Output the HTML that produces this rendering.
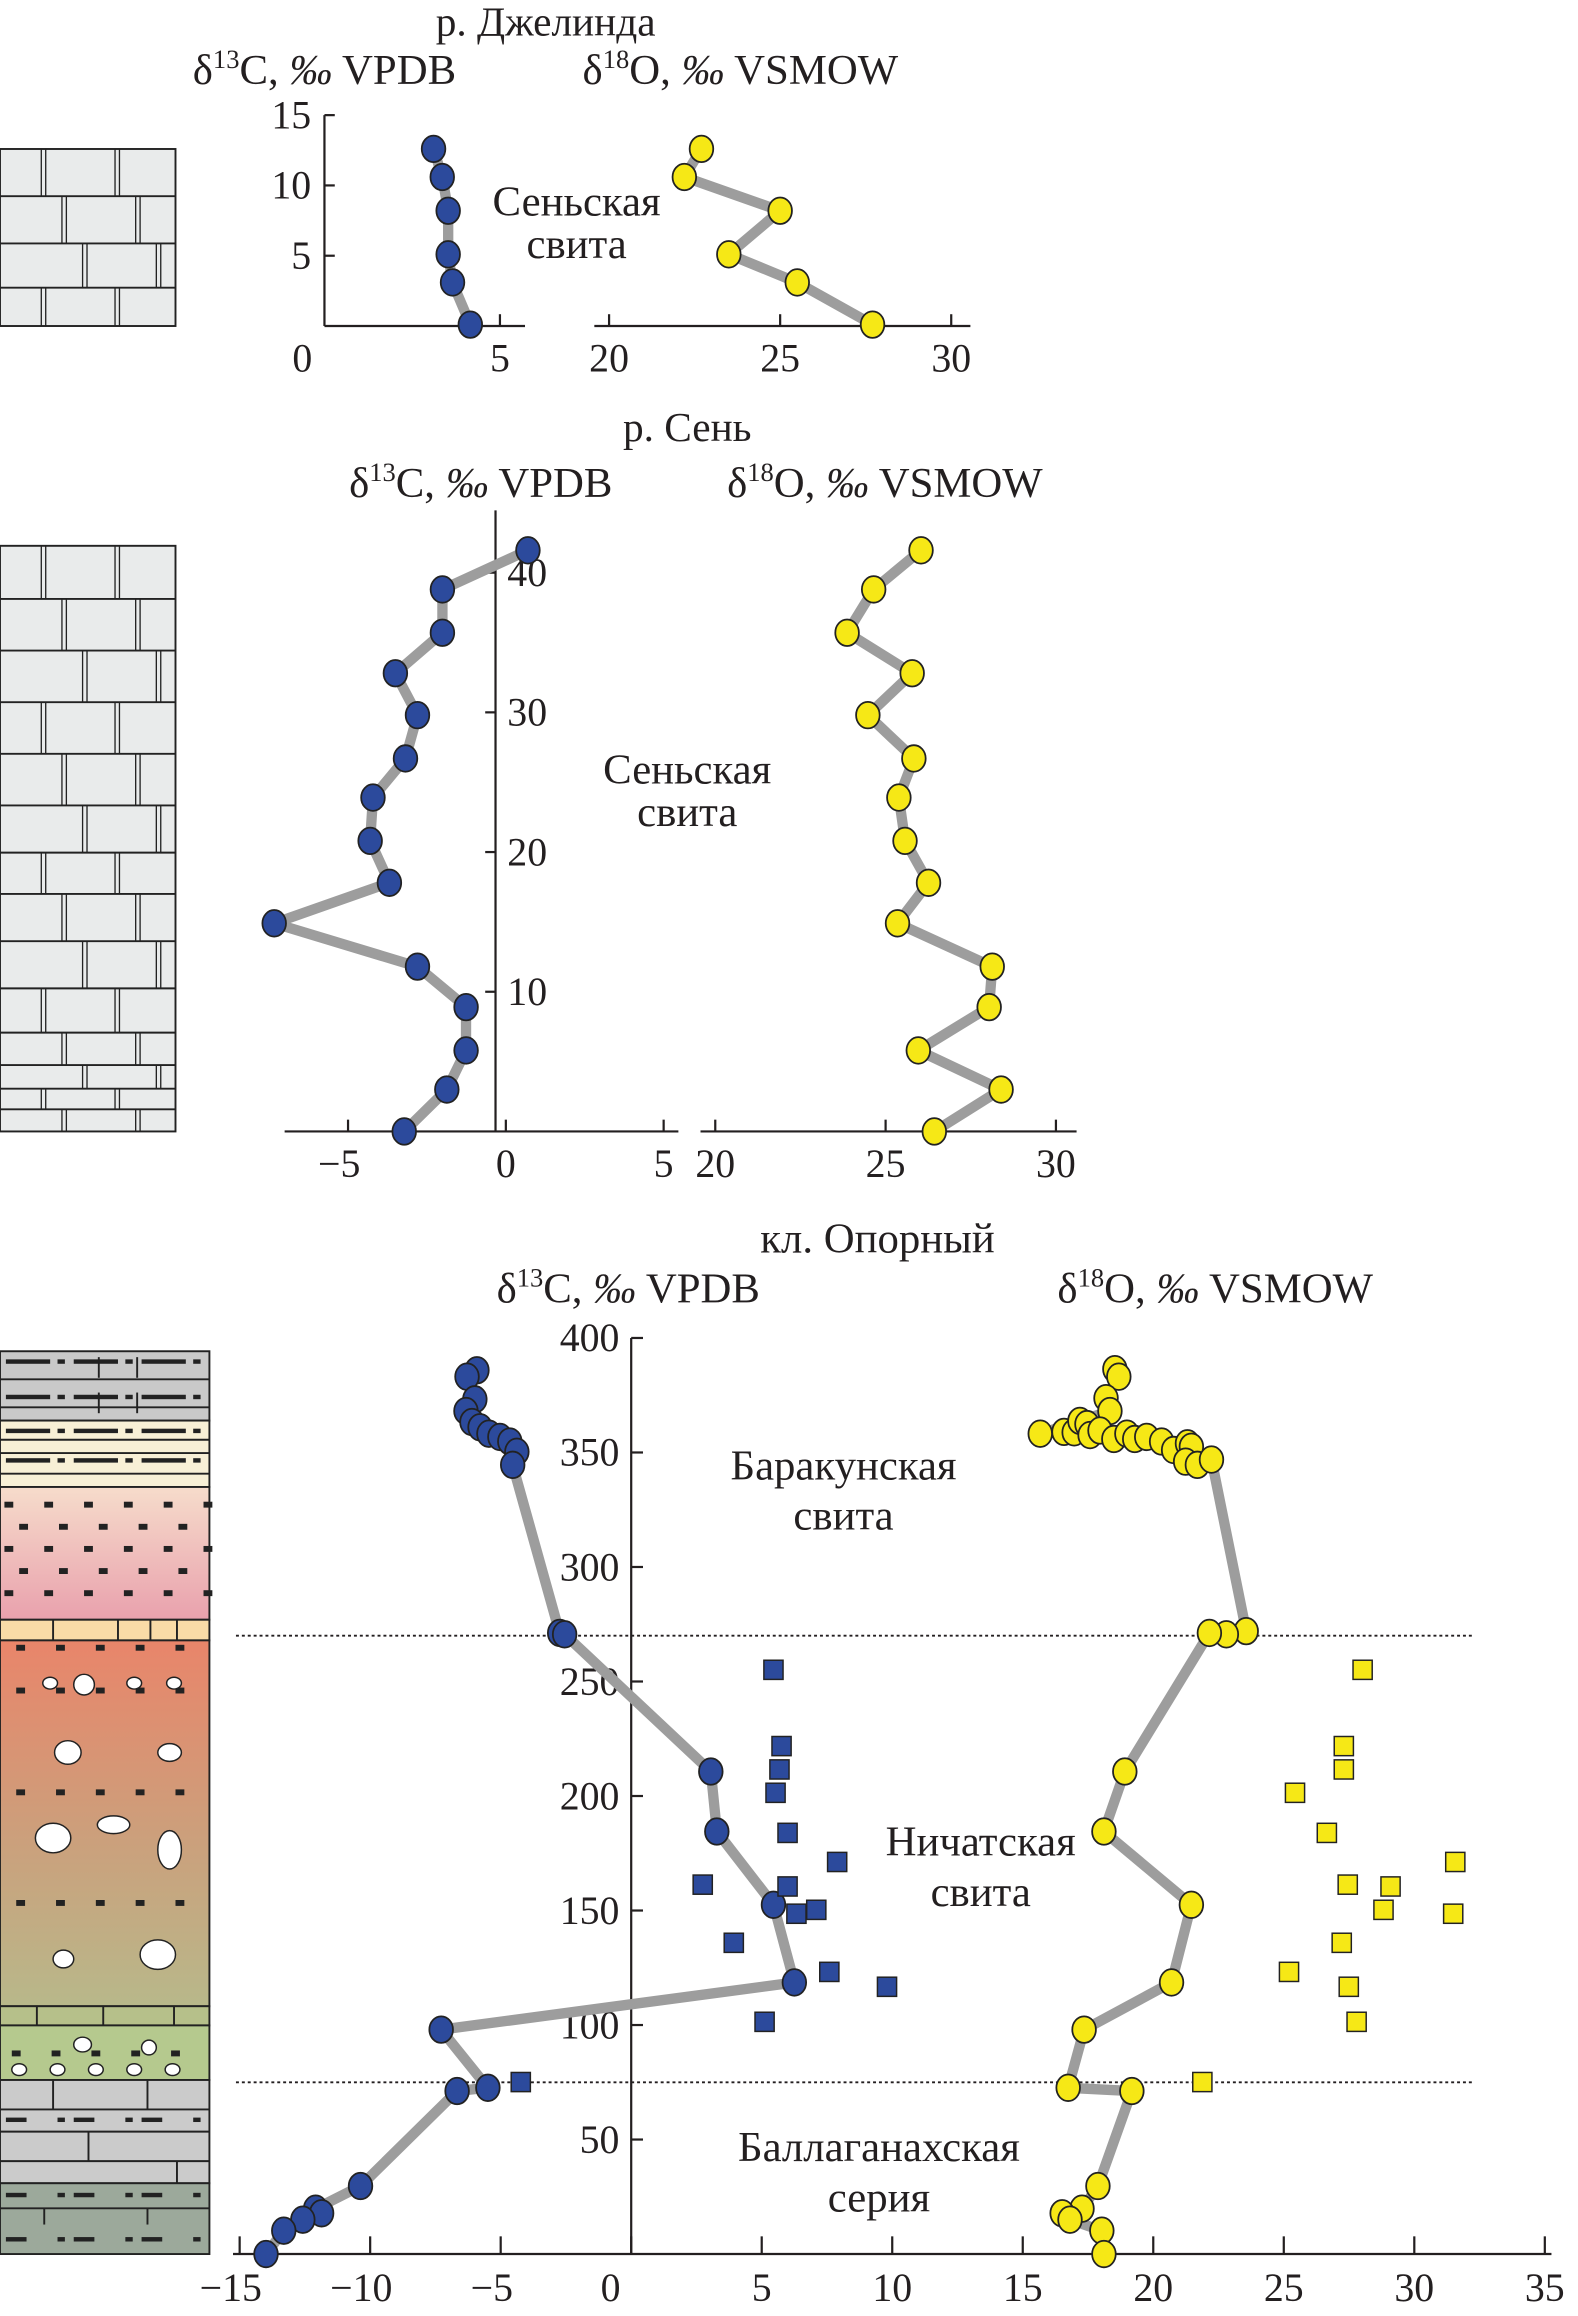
<!DOCTYPE html>
<html><head><meta charset="utf-8">
<style>
html,body{margin:0;padding:0;background:#fff;}
svg{display:block;}
text{font-family:"Liberation Serif",serif;fill:#231f20;}
</style></head>
<body>
<svg id="fig" width="1578" height="2316" viewBox="0 0 1070 1570" preserveAspectRatio="none" xmlns="http://www.w3.org/2000/svg">
<g id="lith"></g>
<g id="axes"></g>
<g id="marks"></g>
<g id="labels">
<text x="370" y="24" font-size="28" text-anchor="middle">р. Джелинда</text>
<text x="220" y="57" font-size="29" text-anchor="middle">δ<tspan font-size="18" dy="-11">13</tspan><tspan dy="11">C, </tspan><tspan font-style="italic">‰</tspan> VPDB</text>
<text x="502" y="57" font-size="29" text-anchor="middle">δ<tspan font-size="18" dy="-11">18</tspan><tspan dy="11">O, </tspan><tspan font-style="italic">‰</tspan> VSMOW</text>
<text x="391" y="146" font-size="29" text-anchor="middle">Сеньская</text>
<text x="391" y="175" font-size="29" text-anchor="middle">свита</text>
<text x="466" y="299" font-size="28" text-anchor="middle">р. Сень</text>
<text x="326" y="337" font-size="29" text-anchor="middle">δ<tspan font-size="18" dy="-11">13</tspan><tspan dy="11">C, </tspan><tspan font-style="italic">‰</tspan> VPDB</text>
<text x="600" y="337" font-size="29" text-anchor="middle">δ<tspan font-size="18" dy="-11">18</tspan><tspan dy="11">O, </tspan><tspan font-style="italic">‰</tspan> VSMOW</text>
<text x="466" y="531" font-size="29" text-anchor="middle">Сеньская</text>
<text x="466" y="560" font-size="29" text-anchor="middle">свита</text>
<text x="595" y="849" font-size="29" text-anchor="middle">кл. Опорный</text>
<text x="426" y="883" font-size="29" text-anchor="middle">δ<tspan font-size="18" dy="-11">13</tspan><tspan dy="11">C, </tspan><tspan font-style="italic">‰</tspan> VPDB</text>
<text x="824" y="883" font-size="29" text-anchor="middle">δ<tspan font-size="18" dy="-11">18</tspan><tspan dy="11">O, </tspan><tspan font-style="italic">‰</tspan> VSMOW</text>
<text x="572" y="1003" font-size="29" text-anchor="middle">Баракунская</text>
<text x="572" y="1037" font-size="29" text-anchor="middle">свита</text>
<text x="665" y="1258" font-size="29" text-anchor="middle">Ничатская</text>
<text x="665" y="1292" font-size="29" text-anchor="middle">свита</text>
<text x="596" y="1465" font-size="29" text-anchor="middle">Баллаганахская</text>
<text x="596" y="1499" font-size="29" text-anchor="middle">серия</text>
</g>
</svg>
<script>
// ---- Top chart (р. Джелинда) ----
const topHeights = [12.6, 10.6, 8.2, 5.1, 3.1, 0.1];
const topC = [3.32, 3.54, 3.69, 3.69, 3.80, 4.25];
const topO = [22.7, 22.2, 25.0, 23.5, 25.5, 27.7];
const topYTicks = [5, 10, 15];
const topCTicks = [0, 5];
const topOTicks = [20, 25, 30];
// ---- Middle chart (р. Сень) ----
const midHeights = [41.6, 38.8, 35.7, 32.8, 29.8, 26.7, 23.9, 20.8, 17.8, 14.9, 11.8, 8.9, 5.8, 3.0, 0];
const midC = [0.70, -2.01, -2.01, -3.50, -2.80, -3.18, -4.21, -4.30, -3.69, -7.34, -2.80, -1.26, -1.26, -1.87, -3.22];
const midO = [26.04, 24.65, 23.87, 25.78, 24.48, 25.83, 25.39, 25.57, 26.26, 25.35, 28.13, 28.04, 25.96, 28.39, 26.43];
const midYTicks = [10, 20, 30, 40];
const midCTicks = [-5, 0, 5];
const midOTicks = [20, 25, 30];
// ---- Bottom chart (кл. Опорный) ----
const botCHeights = [385.9, 383.1, 373.2, 368.1, 363.3, 361.0, 358.2, 356.8, 354.8, 350.3, 344.6, 271.2, 270.6, 210.7, 184.5, 152.5, 118.6, 98.0, 72.6, 71.2, 29.7, 19.8, 17.8, 15.0, 10.2, 0];
const botC = [-5.91, -6.29, -5.99, -6.33, -6.10, -5.79, -5.45, -5.03, -4.65, -4.38, -4.54, -2.74, -2.55, 3.05, 3.28, 5.45, 6.25, -7.28, -5.49, -6.67, -10.37, -12.09, -11.86, -12.58, -13.31, -13.99];
const botOHeights = [386.4, 383.1, 373.7, 368.1, 358.2, 359.0, 358.8, 363.8, 362.4, 357.6, 359.6, 355.9, 358.2, 355.9, 356.8, 354.8, 351.1, 354.0, 352.5, 346.0, 344.6, 346.9, 272.0, 270.6, 271.2, 210.7, 184.5, 152.5, 118.6, 98.0, 72.6, 71.2, 29.7, 19.8, 17.8, 15.0, 10.2, 0];
const botO = [18.53, 18.68, 18.19, 18.34, 15.67, 16.58, 16.97, 17.19, 17.46, 17.58, 17.96, 18.49, 18.99, 19.29, 19.75, 20.32, 20.78, 21.31, 21.46, 21.24, 21.69, 22.23, 23.56, 22.80, 22.15, 18.91, 18.11, 21.46, 20.70, 17.35, 16.74, 19.18, 17.88, 17.27, 16.51, 16.81, 18.03, 18.11];
const sqHeights = [255.1, 221.8, 211.6, 201.4, 183.9, 171.2, 161.3, 160.5, 150.3, 148.6, 135.9, 123.2, 116.7, 101.4, 75.1];
const sqC = [5.45, 5.76, 5.68, 5.53, 5.99, 7.89, 2.74, 5.99, 7.09, 6.33, 3.93, 7.59, 9.80, 5.11, -4.23];
const sqO = [28.02, 27.30, 27.30, 25.43, 26.65, 31.57, 27.45, 29.09, 28.82, 31.49, 27.22, 25.20, 27.49, 27.79, 21.88];
const botYTicks = [50, 100, 150, 200, 250, 300, 350, 400];
const botXTicks = [-15, -10, -5, 0, 5, 10, 15, 20, 25, 30, 35];
const boundaryHeights = [270, 75];

const NS = "http://www.w3.org/2000/svg";
function mk(parent, tag, attrs) {
  const e = document.createElementNS(NS, tag);
  for (const k in attrs) e.setAttribute(k, attrs[k]);
  parent.appendChild(e);
  return e;
}
const lith = document.getElementById('lith');
const axes = document.getElementById('axes');
const marks = document.getElementById('marks');
const BLUE = '#2c4a9c', YEL = '#f6e816', LINE = '#9d9d9d';

const topY = h => 221 - h * 9.53;
const topCx = v => 205 + v * 26.8;
const topOx = v => 413 + (v - 20) * 23.2;
const midY = h => 767 - h * 9.47;
const midCx = v => 343 + v * 21.4;
const midOx = v => 485 + (v - 20) * 23.1;
const botY = h => 1528 - h * 1.5525;
const botX = v => 428 + v * 17.7;

function series(xf, yf, vals, hs, color, name, sq) {
  const pts = vals.map((v, i) => xf(v).toFixed(1) + ',' + yf(hs[i]).toFixed(1)).join(' ');
  if (!sq) {
    const pl = mk(marks, 'polyline', {points: pts, fill: 'none', stroke: LINE, 'stroke-width': 7, 'stroke-linejoin': 'round', 'stroke-linecap': 'round'});
    
    
  }
  vals.forEach((v, i) => {
    let m;
    if (sq) m = mk(marks, 'rect', {x: xf(v) - 6.5, y: yf(hs[i]) - 6.5, width: 13, height: 13, fill: color, stroke: '#222', 'stroke-width': 1});
    else m = mk(marks, 'ellipse', {cx: xf(v), cy: yf(hs[i]), rx: 8, ry: 9, fill: color, stroke: '#222', 'stroke-width': 1.2});
    
    
  });
}
function line(x1, y1, x2, y2, w, extra) {
  return mk(axes, 'line', Object.assign({x1, y1, x2, y2, stroke: '#231f20', 'stroke-width': w || 1.5}, extra || {}));
}
function label(x, y, t, anchor) {
  const e = mk(axes, 'text', {x, y, 'font-size': 27, 'text-anchor': anchor || 'middle'});
  e.textContent = t;
  
  
  return e;
}
const fmt = v => v < 0 ? '\u2212' + Math.abs(v) : String(v);

// ---- top axes ----
line(220, topY(15), 220, 221);
line(220, 221, 356, 221);
topYTicks.forEach(t => line(220, topY(t), 227, topY(t)));
topYTicks.forEach(t => label(211, topY(t) + 9, String(t), 'end'));
topCTicks.forEach(t => { if (t) line(topCx(t), 221, topCx(t), 213); label(topCx(t), 252, String(t)); });
line(403, 221, 658, 221);
topOTicks.forEach(t => { line(topOx(t), 221, topOx(t), 213); label(topOx(t), 252, String(t)); });
series(topCx, topY, topC, topHeights, BLUE, 'top-d13c');
series(topOx, topY, topO, topHeights, YEL, 'top-d18o');

// ---- mid axes ----
line(336, 346, 336, 767);
line(193, 767, 460, 767);
midYTicks.forEach(t => { line(329, midY(t), 336, midY(t)); label(344, midY(t) + 9, String(t), 'start'); });
midCTicks.forEach(t => { line(midCx(t), 767, midCx(t), 759); label(midCx(t) + (t < 0 ? -6 : 0), 798, fmt(t)); });
line(475, 767, 730, 767);
midOTicks.forEach(t => { line(midOx(t), 767, midOx(t), 759); label(midOx(t), 798, String(t)); });
series(midCx, midY, midC, midHeights, BLUE, 'mid-d13c');
series(midOx, midY, midO, midHeights, YEL, 'mid-d18o');

// ---- bottom axes ----
line(428, 907, 428, 1528);
line(158, 1528, 1052, 1528);
botYTicks.forEach(t => { line(428, botY(t), 436, botY(t)); label(420, botY(t) + 9, String(t), 'end'); });
botXTicks.forEach(t => { line(botX(t), 1528, botX(t), 1516); label(botX(t) + (t < 0 ? -6 : (t === 0 ? -14 : 0)), 1560, fmt(t)); });
boundaryHeights.forEach(h => {
  const d = line(160, botY(h), 1000, botY(h), 1.3, {'stroke-dasharray': '2,2'});
  
  
});
series(botX, botY, botC, botCHeights, BLUE, 'bottom-d13c');
series(botX, botY, botO, botOHeights, YEL, 'bottom-d18o');
series(botX, botY, sqC, sqHeights, BLUE, 'bottom-d13c-square', true);
series(botX, botY, sqO, sqHeights, YEL, 'bottom-d18o-square', true);

// ---- lithology ----
function L(tag, a) { return mk(lith, tag, Object.assign({stroke: '#222', 'stroke-width': 1.3}, a)); }
function brick(x0, x1, rows, fill, name) {
  const r = L('rect', {x: x0, y: rows[0], width: x1 - x0, height: rows[rows.length - 1] - rows[0], fill});
   
  for (let i = 0; i < rows.length - 1; i++) {
    if (i) L('line', {x1: x0, y1: rows[i], x2: x1, y2: rows[i]});
    const off = (i % 3) * 14;
    for (let x = x0 + 28 + off; x < x1 - 4; x += 50) {
      L('line', {x1: x, y1: rows[i], x2: x, y2: rows[i + 1], 'stroke-width': 0.9});
      L('line', {x1: x + 3, y1: rows[i], x2: x + 3, y2: rows[i + 1], 'stroke-width': 0.9});
    }
  }
}
brick(0, 119, [101, 133, 165, 195, 221], '#e9ebeb', 'lithology-dzhelinda');
brick(0, 119, [370, 406, 441, 476, 511, 546, 578, 606, 638, 670, 700, 722, 738, 752, 767], '#e9ebeb', 'lithology-sen');

const defs = mk(lith, 'defs', {});
const g1 = mk(defs, 'linearGradient', {id: 'gpink', x1: 0, y1: 0, x2: 0, y2: 1});
mk(g1, 'stop', {offset: 0, 'stop-color': '#f6dccb'}); mk(g1, 'stop', {offset: 1, 'stop-color': '#e9a1ad'});
const g2 = mk(defs, 'linearGradient', {id: 'gred', x1: 0, y1: 0, x2: 0, y2: 1});
mk(g2, 'stop', {offset: 0, 'stop-color': '#e9856a'}); mk(g2, 'stop', {offset: 0.55, 'stop-color': '#cba07c'}); mk(g2, 'stop', {offset: 1, 'stop-color': '#b8b88a'});
const layers = [[916, 963, '#c9c9c9'], [963, 1008, '#f8f0d6'], [1008, 1098, 'url(#gpink)'], [1098, 1112, '#f9dba7'], [1112, 1360, 'url(#gred)'], [1360, 1373, '#b6c08a'], [1373, 1410, '#b5c98e'], [1410, 1480, '#cbcbcb'], [1480, 1528, '#9ca99b']];
layers.forEach(l => {
  const r = L('rect', {x: 0, y: l[0], width: 142, height: l[1] - l[0], fill: l[2]});
   
});
function dashes(y, long) { for (let x = 4; x < 138; x += 46) { L('rect', {x, y: y - 1.5, width: long ? 30 : 14, height: 3, fill: '#222', stroke: 'none'}); L('rect', {x: x + 35, y: y - 1.5, width: 5, height: 3, fill: '#222', stroke: 'none'}); } }
function dots(y, off) { for (let x = 3 + off; x < 140; x += 27) L('rect', {x, y: y - 2, width: 6, height: 4, fill: '#222', stroke: 'none'}); }
[923, 947].forEach(y => dashes(y, true)); L('line', {x1: 0, y1: 935, x2: 142, y2: 935}); L('line', {x1: 0, y1: 954, x2: 142, y2: 954});
[927, 951].forEach(y => { L('line', {x1: 67, y1: y - 7, x2: 67, y2: y + 7}); L('line', {x1: 93, y1: y - 7, x2: 93, y2: y + 7}); });
[970, 990].forEach(y => dashes(y, true)); L('line', {x1: 0, y1: 976, x2: 142, y2: 976}); L('line', {x1: 0, y1: 985, x2: 142, y2: 985}); L('line', {x1: 0, y1: 999, x2: 142, y2: 999});
[1020, 1035, 1050, 1065, 1080].forEach((y, i) => dots(y, i % 2 ? 10 : 0));
[1117, 1146, 1215, 1290].forEach(y => dots(y, 8));
[36, 80, 102, 120].forEach(x => L('line', {x1: x, y1: 1098, x2: x, y2: 1112}));
[[34, 1141, 5, 4], [57, 1142, 7, 7], [91, 1141, 5, 4], [118, 1141, 5, 4], [46, 1188, 9, 8], [115, 1188, 8, 6], [36, 1246, 12, 10], [77, 1237, 11, 6], [115, 1254, 8, 13], [43, 1328, 7, 6], [107, 1325, 12, 10], [56, 1386, 6, 5], [101, 1388, 5, 5]].forEach(p => L('ellipse', {cx: p[0], cy: p[1], rx: p[2], ry: p[3], fill: '#fff', 'stroke-width': 1}));
dots(1392, 5);
for (let x = 13; x < 140; x += 26) L('ellipse', {cx: x, cy: 1403, rx: 5, ry: 4, fill: '#fff', 'stroke-width': 1});
[1430, 1445, 1465, 1497].forEach(y => L('line', {x1: 0, y1: y, x2: 142, y2: y}));
[1437, 1488, 1518].forEach(y => dashes(y, false));
[[36, 1410, 1430], [100, 1410, 1430], [60, 1445, 1465], [120, 1465, 1480], [30, 1497, 1508], [100, 1497, 1508]].forEach(s => L('line', {x1: s[0], y1: s[1], x2: s[0], y2: s[2]}));
[25, 70, 118].forEach(x => L('line', {x1: x, y1: 1360, x2: x, y2: 1373}));
</script>
</body></html>
